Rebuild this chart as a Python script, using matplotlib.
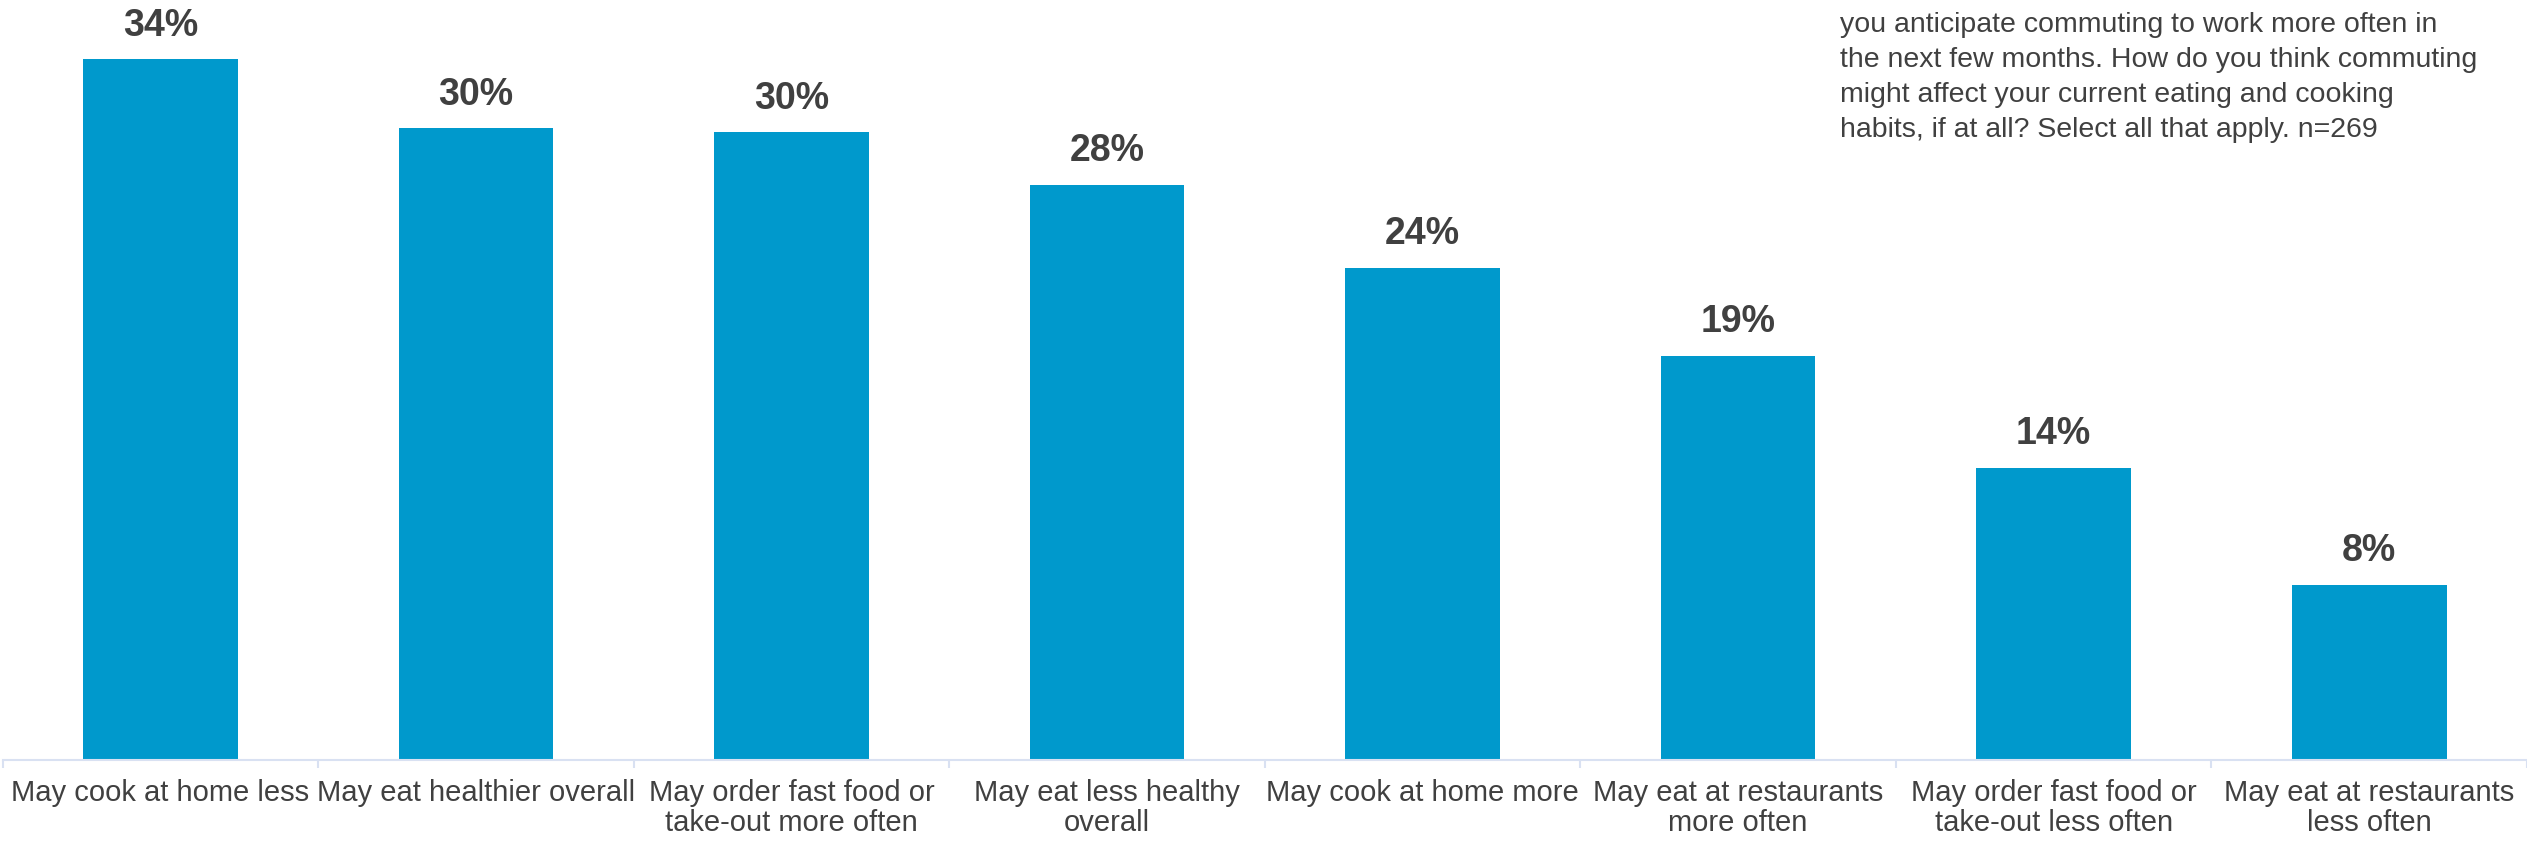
import numpy as np
import matplotlib
matplotlib.use('Agg')
import matplotlib.pyplot as plt

plt.rcParams['font.family'] = ['Liberation Sans', 'DejaVu Sans']

categorias = ['May cook at home less', 'May eat healthier overall',
              'May order fast food or\ntake-out more often', 'May eat less healthy\noverall',
              'May cook at home more', 'May eat at restaurants\nmore often',
              'May order fast food or\ntake-out less often', 'May eat at restaurants\nless often']
valores = [33.6, 30.3, 30.1, 27.6, 23.6, 19.4, 14.0, 8.4]
rotulos = ['34%', '30%', '30%', '28%', '24%', '19%', '14%', '8%']

cinza = '#404040'
azul = '#0099CC'

fig = plt.figure(figsize=(25.27, 8.45), dpi=100)
ax = fig.add_axes([0.001, 0.0994, 0.999, 0.9006])

x = np.arange(len(categorias))
ax.bar(x, valores, width=0.49, color=azul)

for xi, v, r in zip(x, valores, rotulos):
    ax.annotate(r, (xi, v), xytext=(0, 25), textcoords='offset points',
                ha='center', va='center', fontsize=27, fontweight='bold', color=cinza)

ax.set_xlim(-0.5, 7.5)
ax.set_ylim(0, 36.5)
ax.set_yticks([])
ax.set_xticks(x)
ax.set_xticklabels(categorias, fontsize=21, color=cinza, linespacing=1.1)
ax.tick_params(axis='x', which='major', length=0, pad=13)
ax.set_xticks(np.arange(-0.5, 8, 1), minor=True)
ax.tick_params(axis='x', which='minor', length=6, width=1.5, color='#D9E1F2')

for s in ['top', 'right', 'left']:
    ax.spines[s].set_visible(False)
ax.spines['bottom'].set_color('#D9E1F2')
ax.spines['bottom'].set_linewidth(1.5)

# texto da pergunta no canto superior direito
texto = ('you anticipate commuting to work more often in\n'
         'the next few months. How do you think commuting\n'
         'might affect your current eating and cooking\n'
         'habits, if at all? Select all that apply. n=269')
fig.text(1840 / 2527, 1 - 12 / 845, texto, ha='left', va='top', fontsize=20.5,
         color=cinza, linespacing=1.45)

fig.savefig('out.png', dpi=100)
